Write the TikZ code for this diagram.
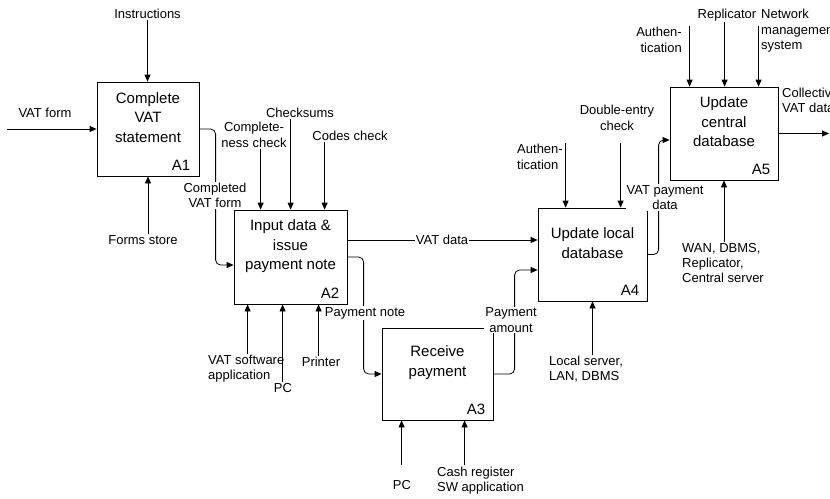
\documentclass[tikz,border=0pt]{standalone}
\usepackage{fontspec}
\setmainfont{Liberation Sans}
\usetikzlibrary{positioning}
\usetikzlibrary{arrows.meta}

\begin{document}
\begin{tikzpicture}
                    [
                    x=1pt, y=-1pt,
                    func/.style={draw, line width=0.8pt, inner sep=0pt},
                    title/.style={align=center, font=\fontsize{15}{19.5}\selectfont},
                    tag/.style={anchor=south east, inner sep=0pt, font=\fontsize{15}{18}\selectfont},
                    lbl/.style={align=center, inner sep=1pt, font=\fontsize{13}{15.5}\selectfont},
                    onlbl/.style={lbl, fill=white},
                    arr/.style={-{Triangle[length=7pt,width=6pt]}, line width=0.8pt, rounded corners=5pt},
                    ]
                    \useasboundingbox (0,0) rectangle (830,498);
                    % % 活动框
                    \node[func, minimum width=102pt, minimum height=94pt] (A1) at (148,129) {};
                    \node[func, minimum width=113pt, minimum height=94pt] (A2) at (290.5,257) {};
                    \node[func, minimum width=111pt, minimum height=92pt] (A3) at (437.5,374) {};
                    \node[func, minimum width=109pt, minimum height=93pt] (A4) at (592.5,254.5) {};
                    \node[func, minimum width=108pt, minimum height=93pt] (A5) at (724,133.5) {};

                    \node[title] (A1t) at ([yshift=11.5pt]A1.center) {Complete\\VAT\\statement};
                    \node[title] (A2t) at ([yshift=10.5pt]A2.center) {Input data \&\\issue\\payment note};
                    \node[title] (A3t) at ([yshift=11.5pt]A3.center) {Receive\\payment};
                    \node[title] (A4t) at ([yshift=11.5pt]A4.center) {Update local\\database};
                    \node[title] (A5t) at ([yshift=11.5pt]A5.center) {Update\\central\\database};

                    \node[tag] (A1n) at ([shift={(-9pt,6pt)}]A1.south east) {A1};
                    \node[tag] (A2n) at ([shift={(-8pt,6pt)}]A2.south east) {A2};
                    \node[tag] (A3n) at ([shift={(-8pt,6pt)}]A3.south east) {A3};
                    \node[tag] (A4n) at ([shift={(-8pt,6pt)}]A4.south east) {A4};
                    \node[tag] (A5n) at ([shift={(-8pt,6pt)}]A5.south east) {A5};
                    %
                    \coordinate (c21) at ([xshift=27pt]A2.north west);
                    \coordinate (c22) at ([xshift=57pt]A2.north west);
                    \coordinate (c23) at ([xshift=91pt]A2.north west);
                    \coordinate (m21) at ([xshift=14pt]A2.south west);
                    \coordinate (m22) at ([xshift=49pt]A2.south west);
                    \coordinate (m23) at ([xshift=85pt]A2.south west);
                    \coordinate (m31) at ([xshift=20pt]A3.south west);
                    \coordinate (m32) at ([xshift=83pt]A3.south west);
                    \coordinate (c41) at ([xshift=28pt]A4.north west);
                    \coordinate (c42) at ([xshift=83pt]A4.north west);
                    \coordinate (c51) at ([xshift=20pt]A5.north west);
                    \coordinate (c52) at ([xshift=55pt]A5.north west);
                    \coordinate (c53) at ([xshift=89pt]A5.north west);
                    \coordinate (vatin) at (7,129);
                    \coordinate (out5) at (829,133.5);
                    \coordinate (A2vd) at ([yshift=17pt]A2.east);

                    % % 控制与机制
                    \node[lbl] (instr) at (147.5,14) {Instructions};
                    \node[lbl] (vatf) at (45,113) {VAT form};
                    \node[lbl] (fstore) at (143,240) {Forms store};
                    \node[lbl] (cmpl) at (254,135) {Complete-\\ness check};
                    \node[lbl] (csum) at (300,113) {Checksums};
                    \node[lbl] (codes) at (350,136) {Codes check};
                    \node[lbl, align=left, anchor=west] (vsw) at (207,368.5) {VAT software\\application};
                    \node[lbl] (pc2) at (283,388) {PC};
                    \node[lbl] (prn) at (321,362) {Printer};
                    \node[lbl] (pc3) at (402,485) {PC};
                    \node[lbl, align=left, anchor=west] (cash) at (436,480.5) {Cash register\\SW application};
                    \node[lbl, align=left] (auth4) at (540,157) {Authen-\\tication};
                    \node[lbl] (dbl) at (617,118) {Double-entry\\check};
                    \node[lbl, align=left, anchor=west] (lsrv) at (548,369) {Local server,\\LAN, DBMS};
                    \node[lbl, align=right, anchor=east] (auth5) at (683,40) {Authen-\\tication};
                    \node[lbl] (repl) at (727,15) {Replicator};
                    \node[lbl, align=left, anchor=west] (nms) at (760,31) {Network\\management\\system};
                    \node[lbl, align=left, anchor=west, font=\fontsize{13}{15}\selectfont] (wan) at (681,263) {WAN, DBMS,\\Replicator,\\Central server};
                    \node[lbl, align=left, anchor=west] (coll) at (781,100.5) {Collective\\VAT data};
                    %
                    \path[arr]
                        (vatin) edge (A1.west)
                        (instr) edge (instr.south |- A1.north)
                        (fstore.north -| A1.south) edge (A1.south)
                        (cmpl.south -| c21) edge (c21)
                        (csum.south -| c22) edge (c22)
                        (codes.south -| c23) edge (c23)
                        (vsw.north -| m21) edge (m21)
                        (pc2.north -| m22) edge (m22)
                        (prn.north -| m23) edge (m23)
                        (cash.north -| m31) edge (m31)
                        (cash.north -| m32) edge (m32)
                        (auth4.north -| c41) edge (c41)
                        (auth4.north -| c42) edge (c42)
                        (lsrv.north -| A4.south) edge (A4.south)
                        (auth5.north -| c51) edge (c51)
                        (repl.south -| c52) edge (c52)
                        (auth5.north -| c53) edge (c53)
                        (wan.north -| A5.south) edge (A5.south)
                        (A5.east) edge (out5)
                        (A2vd) edge (A2vd -| A4.west)
                    ;
                    \draw[arr] (A1.east) -| ([shift={(-18pt,-8pt)}]A2.west) -- ([yshift=-8pt]A2.west);
                    \draw[arr] (A2.east) -| ([xshift=-18pt]A3.west) -- (A3.west);
                    \draw[arr] (A3.east) -| ([shift={(-23pt,-15.5pt)}]A4.west) -- ([yshift=-15.5pt]A4.west);
                    \draw[arr] (A4.east) -| ([shift={(-11pt,-6.5pt)}]A5.west) -- ([yshift=-6.5pt]A5.west);

                    % % 线上标签
                    \node[onlbl] (cform) at (215,195.5) {Completed\\VAT form};
                    \node[onlbl, inner sep=0.5pt] (vdata) at (442,240) {VAT data};
                    \node[onlbl] (pnote) at (365,313) {Payment note};
                    \node[onlbl] (pamt) at (511,320) {Payment\\amount};
                    \node[onlbl] (vpd) at (665,197.5) {VAT payment\\data};
                \end{tikzpicture}
\end{document}
